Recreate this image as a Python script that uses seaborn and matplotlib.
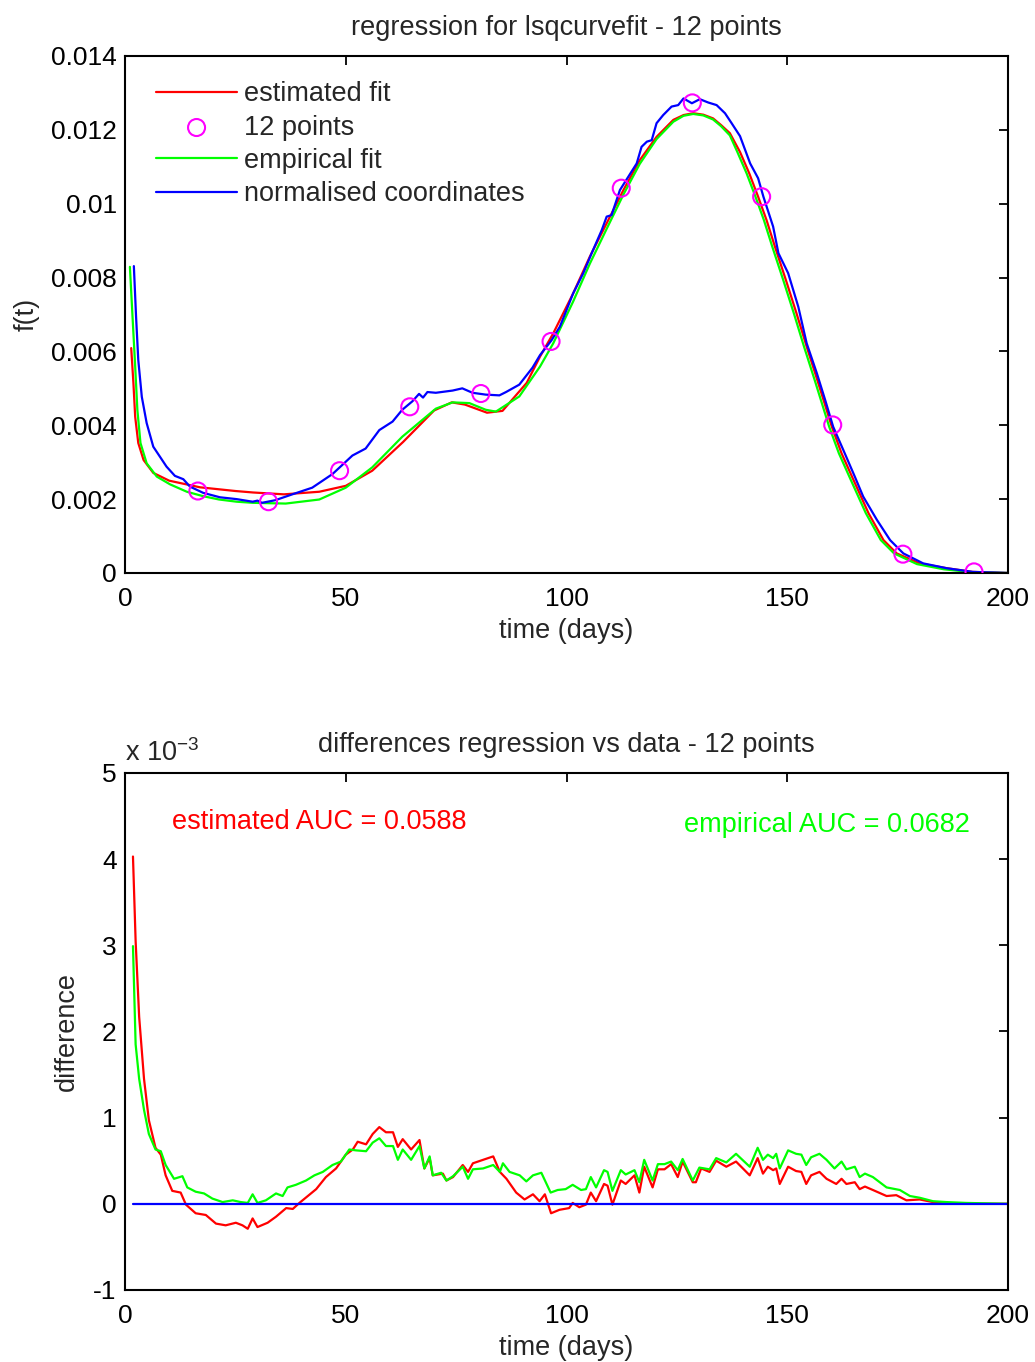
import matplotlib
matplotlib.use('Agg')
import numpy as np
import pandas as pd
import seaborn as sns
import matplotlib.pyplot as plt
from matplotlib.ticker import FuncFormatter

sns.set_style('white')
plt.rcParams['font.family'] = ['Liberation Sans', 'DejaVu Sans']
plt.rcParams['mathtext.fontset'] = 'custom'
plt.rcParams['mathtext.rm'] = 'Liberation Sans'

# top panel: fits, sample points and normalised data
point_days = [16.5, 32.5, 48.6, 64.5, 80.6, 96.5, 112.4, 128.5, 144.2, 160.3, 176.2, 192.3]
point_vals = [0.00222, 0.00193, 0.00277, 0.00450, 0.00486, 0.00627, 0.01042, 0.01273,
              0.01019, 0.00401, 0.00051, 0.00003]

est_days = [1.4, 1.9, 2.3, 3.0, 4.2, 6.4, 10, 17, 25, 29, 36, 44, 50, 56, 63, 70, 74, 77,
            82, 85.5, 91, 94, 97, 101.5, 105.3, 109.1, 112.9, 116.6, 120.4, 124.2, 126.5,
            128.7, 131, 133.2, 135, 137, 139.3, 141.4, 143.4, 145.3, 147.2, 149.7, 152.1,
            154.4, 156.8, 160.1, 162.3, 165, 168.4, 171.8, 174.8, 180, 186.1, 192, 200]
est_fit = [0.00609, 0.00514, 0.00423, 0.00352, 0.00306, 0.00271, 0.00250, 0.00232,
           0.00222, 0.00218, 0.00213, 0.00220, 0.00236, 0.00277, 0.00355, 0.00440,
           0.00462, 0.00456, 0.00434, 0.00439, 0.00515, 0.00586, 0.00649, 0.00757,
           0.00857, 0.00947, 0.01037, 0.01118, 0.01181, 0.01227, 0.01240, 0.01245,
           0.01241, 0.01231, 0.01213, 0.01191, 0.01140, 0.01082, 0.01019, 0.00956,
           0.00884, 0.00793, 0.00703, 0.00613, 0.00523, 0.00396, 0.00324, 0.00252,
           0.00162, 0.00089, 0.00053, 0.00026, 0.00013, 0.00003, 0.0]

emp_days = [1.1, 1.7, 2.3, 2.8, 3.5, 4.9, 7.2, 10.2, 14, 17.7, 21.3, 25.3, 29, 36.4, 44,
            50, 56, 62.8, 70.4, 74.2, 78, 81.7, 84, 89.3, 94, 97, 101.5, 105.3, 109.1,
            112.9, 116.6, 120.4, 124.2, 126.5, 128.7, 131, 133.2, 135, 137, 138.7, 140.8,
            142.8, 144.7, 146.6, 149.1, 151.5, 153.8, 156.2, 159.5, 161.7, 164.4, 167.8,
            171.2, 174.2, 179.4, 185.5, 192, 200]
emp_fit = [0.00829, 0.00694, 0.00559, 0.00441, 0.00352, 0.00297, 0.00261, 0.00240,
           0.00220, 0.00208, 0.00199, 0.00193, 0.00190, 0.00188, 0.00199, 0.00231,
           0.00286, 0.00369, 0.00445, 0.00462, 0.00460, 0.00442, 0.00437, 0.00478,
           0.00559, 0.00622, 0.00735, 0.00838, 0.00932, 0.01025, 0.01108, 0.01175,
           0.01222, 0.01238, 0.01243, 0.01239, 0.01228, 0.01210, 0.01185, 0.01140,
           0.01082, 0.01019, 0.00956, 0.00884, 0.00793, 0.00703, 0.00613, 0.00523,
           0.00396, 0.00324, 0.00252, 0.00162, 0.00089, 0.00053, 0.00024, 0.00010,
           0.00002, 0.0]

norm_days = [2.0, 2.5, 3.0, 3.8, 4.9, 6.4, 7.9, 9.4, 11.3, 13.2, 14.7, 17.7, 21.5, 25.3,
             28.9, 30, 31, 34, 37.9, 42.4, 47, 51.5, 54.5, 57.6, 60.6, 62.8, 65.1, 66.6,
             67.5, 68.5, 70.4, 74.2, 76.4, 78.7, 81.7, 84.8, 86.3, 89.3, 92.3, 94, 96.6,
             98.5, 101.5, 103.8, 105.7, 108, 109.1, 110.2, 112.1, 114, 115.9, 117, 118.2,
             119.3, 120.4, 121.9, 123.8, 125.3, 126.5, 128.4, 130.2, 132.1, 134, 135.9,
             137.4, 139.3, 141.6, 143.4, 144.6, 146.8, 148, 150.2, 152.5, 154.4, 156.7,
             158.6, 160.4, 162.7, 165.3, 167.2, 170.3, 173.3, 176.3, 180.8, 186.1, 192, 200]
norm_coords = [0.00831, 0.00694, 0.00577, 0.00477, 0.00406, 0.00342, 0.00315, 0.00288,
               0.00263, 0.00254, 0.00234, 0.00217, 0.00205, 0.00200, 0.00193, 0.00196,
               0.00190, 0.00197, 0.00213, 0.00231, 0.00268, 0.00318, 0.00337, 0.00387,
               0.00410, 0.00442, 0.00465, 0.00485, 0.00475, 0.00490, 0.00488, 0.00494,
               0.00500, 0.00488, 0.00483, 0.00481, 0.00490, 0.00510, 0.00556, 0.00590,
               0.00630, 0.00667, 0.00757, 0.00812, 0.00866, 0.00929, 0.00965, 0.00969,
               0.01037, 0.01073, 0.01109, 0.01154, 0.01168, 0.01172, 0.01218, 0.01240,
               0.01263, 0.01267, 0.01285, 0.01272, 0.01283, 0.01274, 0.01267, 0.01245,
               0.01218, 0.01183, 0.01109, 0.01069, 0.01019, 0.00938, 0.00866, 0.00812,
               0.00721, 0.00622, 0.00541, 0.00468, 0.00396, 0.00333, 0.00261, 0.00207,
               0.00144, 0.00089, 0.00053, 0.00026, 0.00013, 0.00003, 0.0]

# bottom panel: differences (in units of 1e-3)
est_diff_days = [1.8, 2.4, 3.2, 4.3, 5.4, 6.9, 8.1, 9.2, 10.7, 12.6, 13.8, 16, 18.3, 20.6,
                 22.8, 25.1, 26.6, 27.8, 28.9, 30, 32.3, 34.2, 36.5, 38, 39.5, 41.4, 43.3,
                 45.5, 47.8, 50, 51.6, 52.7, 54.6, 56.1, 57.6, 59.1, 60.7, 61.8, 62.9,
                 64.8, 66.7, 67.8, 69, 69.7, 72, 72.8, 74.3, 76.5, 77.7, 78.8, 81.1, 83.4,
                 84.9, 86.4, 88.6, 90.5, 92.4, 93.9, 95.1, 96.5, 98.4, 100.6, 101.4, 102.9,
                 104.4, 105.5, 106.7, 108.5, 109.3, 110.4, 112.3, 113.4, 115.4, 116.5,
                 117.6, 119.5, 120.7, 122.2, 123.7, 125.2, 126.3, 128.6, 129.3, 130.5,
                 132.4, 133.9, 136.2, 138.4, 141.5, 143.3, 144.5, 145.6, 146.8, 147.5,
                 148.3, 150.2, 152, 153.2, 154.3, 155.4, 157.3, 158.9, 161.1, 162.3, 163.4,
                 165.3, 166.4, 167.6, 169.4, 172.5, 174.7, 177, 180, 183, 186, 200]
est_diff = [4.03, 3.05, 2.17, 1.45, 0.97, 0.65, 0.57, 0.33, 0.15, 0.13, -0.01, -0.11,
            -0.13, -0.23, -0.25, -0.22, -0.25, -0.29, -0.17, -0.27, -0.22, -0.15, -0.05,
            -0.06, 0.01, 0.09, 0.17, 0.31, 0.41, 0.57, 0.63, 0.72, 0.69, 0.81, 0.89, 0.83,
            0.83, 0.66, 0.75, 0.63, 0.74, 0.41, 0.53, 0.33, 0.35, 0.27, 0.31, 0.45, 0.37,
            0.47, 0.51, 0.55, 0.37, 0.29, 0.13, 0.05, 0.11, 0.03, 0.11, -0.11, -0.07,
            -0.05, 0.01, -0.04, -0.01, 0.13, 0.03, 0.23, 0.21, -0.01, 0.27, 0.23, 0.33,
            0.13, 0.43, 0.19, 0.40, 0.40, 0.46, 0.31, 0.49, 0.25, 0.25, 0.41, 0.37, 0.50,
            0.43, 0.49, 0.33, 0.53, 0.35, 0.43, 0.39, 0.41, 0.23, 0.43, 0.38, 0.37, 0.23,
            0.33, 0.37, 0.29, 0.23, 0.29, 0.23, 0.25, 0.17, 0.20, 0.16, 0.09, 0.10, 0.04,
            0.05, 0.02, 0.0, 0.0]

emp_diff_days = [1.8, 2.4, 3.2, 4.3, 5.4, 6.9, 8.1, 9.2, 11.1, 13, 14.1, 16, 17.9, 19.8,
                 22.1, 24.4, 26.2, 27.8, 28.9, 30, 31.9, 34.2, 35.7, 36.8, 38.7, 41, 42.9,
                 44.8, 47, 48.9, 50.8, 52.3, 54.6, 56.1, 57.6, 59.1, 60.7, 61.8, 62.9,
                 64.8, 66.7, 67.8, 69, 69.7, 71.6, 72.8, 74.3, 76.5, 77.7, 78.8, 81.1,
                 83.4, 84.9, 85.6, 87.1, 89.4, 90.9, 92.4, 94.3, 96.4, 98, 99.8, 101.4,
                 103.3, 104.4, 105.5, 106.7, 108.5, 109.3, 110.4, 112.3, 113.4, 115.4,
                 116.5, 117.6, 119.5, 120.7, 122.2, 123.7, 125.2, 126.3, 128.6, 130.1,
                 132.4, 133.9, 136.2, 138.4, 141.5, 143.3, 144.5, 145.6, 146.8, 147.5,
                 148.3, 150.2, 152, 153.2, 154.3, 155.4, 157.3, 158.9, 160.7, 162.3, 163.4,
                 165.3, 166.4, 167.6, 169.4, 172.5, 175.5, 177.8, 180, 183, 186, 190.5, 200]
emp_diff = [2.99, 1.85, 1.45, 1.09, 0.81, 0.63, 0.61, 0.45, 0.29, 0.32, 0.19, 0.14, 0.12,
            0.06, 0.02, 0.04, 0.02, 0.01, 0.11, 0.01, 0.04, 0.12, 0.09, 0.19, 0.22, 0.27,
            0.33, 0.37, 0.45, 0.49, 0.63, 0.62, 0.61, 0.71, 0.76, 0.67, 0.67, 0.51, 0.63,
            0.51, 0.67, 0.41, 0.55, 0.33, 0.36, 0.27, 0.32, 0.43, 0.29, 0.40, 0.41, 0.45,
            0.37, 0.47, 0.37, 0.33, 0.26, 0.33, 0.36, 0.13, 0.16, 0.17, 0.22, 0.16, 0.17,
            0.31, 0.19, 0.39, 0.37, 0.15, 0.39, 0.34, 0.39, 0.25, 0.51, 0.27, 0.46, 0.46,
            0.49, 0.39, 0.52, 0.27, 0.42, 0.40, 0.53, 0.48, 0.58, 0.43, 0.65, 0.51, 0.57,
            0.53, 0.58, 0.41, 0.62, 0.58, 0.57, 0.45, 0.54, 0.58, 0.51, 0.41, 0.49, 0.40,
            0.43, 0.31, 0.35, 0.31, 0.19, 0.16, 0.09, 0.07, 0.03, 0.02, 0.01, 0.0]

zero_days = [1.8, 200]
zero_diff = [0.0, 0.0]

RED, GREEN, BLUE, MAGENTA = (1, 0, 0), (0, 1, 0), (0, 0, 1), (1, 0, 1)
FS = 19.5

fig = plt.figure(figsize=(10.35, 13.62), dpi=100)
ax1 = fig.add_axes([0.1208, 0.5793, 0.8531, 0.3796])
ax2 = fig.add_axes([0.1208, 0.0529, 0.8531, 0.3796])

sns.lineplot(x=est_days, y=est_fit, color=RED, lw=1.6, sort=False, estimator=None,
             label='estimated fit', ax=ax1)
sns.scatterplot(x=point_days, y=point_vals, marker='o', s=150, facecolors='none',
                edgecolor=MAGENTA, linewidth=1.5, label='12 points', ax=ax1, zorder=3)
sns.lineplot(x=emp_days, y=emp_fit, color=GREEN, lw=1.6, sort=False, estimator=None,
             label='empirical fit', ax=ax1)
sns.lineplot(x=norm_days, y=norm_coords, color=BLUE, lw=1.6, sort=False, estimator=None,
             label='normalised coordinates', ax=ax1)

sns.lineplot(x=est_diff_days, y=est_diff, color=RED, lw=1.6, sort=False, estimator=None, ax=ax2)
sns.lineplot(x=emp_diff_days, y=emp_diff, color=GREEN, lw=1.6, sort=False, estimator=None, ax=ax2)
sns.lineplot(x=zero_days, y=zero_diff, color=BLUE, lw=1.6, sort=False, estimator=None, ax=ax2)

fmt = FuncFormatter(lambda v, p: '%g' % v)
for ax in (ax1, ax2):
    ax.set_xlim(0, 200)
    ax.set_xticks([0, 50, 100, 150, 200])
    ax.xaxis.set_major_formatter(fmt)
    ax.yaxis.set_major_formatter(fmt)
    ax.tick_params(direction='in', length=6.5, width=1.3, top=True, right=True,
                   labelsize=19, colors='black')
    ax.tick_params(axis='x', pad=10)
    ax.tick_params(axis='y', pad=6)
    for sp in ax.spines.values():
        sp.set_linewidth(1.5)
        sp.set_color('black')
    ax.set_xlabel('time (days)', fontsize=FS, labelpad=5)

ax1.set_ylim(0, 0.014)
ax1.set_yticks(np.arange(0, 0.0141, 0.002))
ax1.set_ylabel('f(t)', fontsize=FS, labelpad=8)
ax1.set_title('regression for lsqcurvefit - 12 points', fontsize=FS, pad=15)
ax1.legend(loc='upper left', bbox_to_anchor=(0.035, 0.951), frameon=False, fontsize=FS,
           handlelength=3.0, handletextpad=0.25, labelspacing=0.27,
           borderpad=0, borderaxespad=0)

ax2.set_ylim(-1, 5)
ax2.set_yticks([-1, 0, 1, 2, 3, 4, 5])
ax2.set_ylabel('difference', fontsize=FS, labelpad=10)
ax2.set_title('differences regression vs data - 12 points', fontsize=FS, pad=15)
ax2.text(0.0, 1.012, r'x 10$^{\mathregular{-3}}$', transform=ax2.transAxes,
         ha='left', va='bottom', fontsize=FS)
ax2.text(10.6, 4.43, 'estimated AUC = 0.0588', color=RED, fontsize=FS,
         ha='left', va='center')
ax2.text(191.4, 4.40, 'empirical AUC = 0.0682', color=GREEN, fontsize=FS,
         ha='right', va='center')

fig.savefig('out.png', dpi=100)
